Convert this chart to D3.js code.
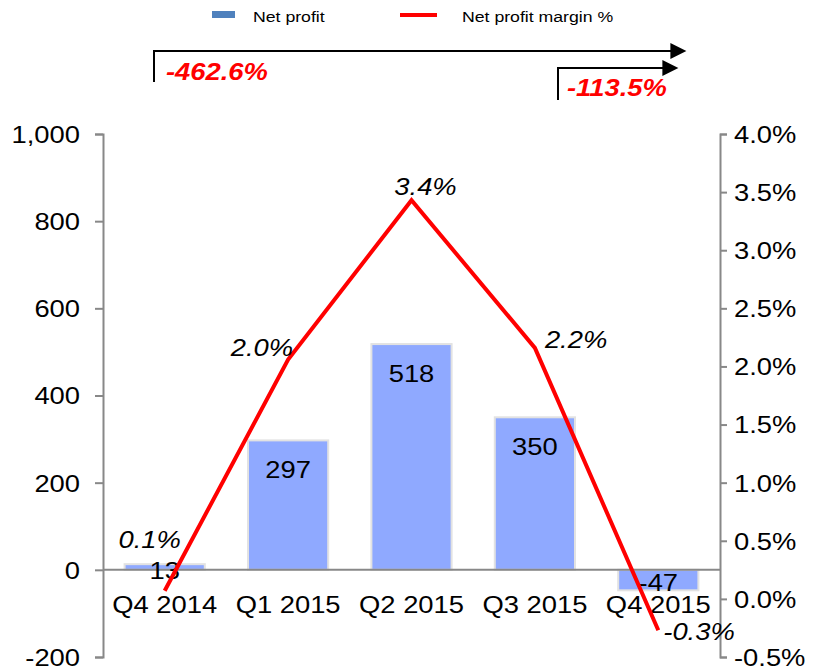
<!DOCTYPE html>
<html>
<head>
<meta charset="utf-8">
<script src="https://cdn.jsdelivr.net/npm/d3@7"></script>
<style>
  body { margin: 0; background: #fff; }
  text { font-family: "Liberation Sans", Arial, sans-serif; }
</style>
</head>
<body>
<script>
// chart data
const categories = ["Q4 2014", "Q1 2015", "Q2 2015", "Q3 2015", "Q4 2015"];
const netProfit = [13, 297, 518, 350, -47];
const margin = [0.07, 2.06, 3.43, 2.16, -0.27];
const marginLabels = ["0.1%", "2.0%", "3.4%", "2.2%", "-0.3%"];
const leftTicks = [-200, 0, 200, 400, 600, 800, 1000];
const rightTicks = [-0.5, 0, 0.5, 1, 1.5, 2, 2.5, 3, 3.5, 4];
const arrowNotes = ["-462.6%", "-113.5%"];

const W = 821, H = 670;
const SX = 1.14; // the original text is a bit wider than plain Arial
const FS = 24;
const svg = d3.select("body").append("svg").attr("width", W).attr("height", H);

// move x/y into a transform so text can be widened
function stretch(sel) {
  sel.each(function () {
    const t = d3.select(this);
    const px = +t.attr("x") || 0, py = +t.attr("y") || 0;
    t.attr("x", 0).attr("y", 0).attr("transform", `translate(${px},${py}) scale(${SX},1)`);
  });
}

const x = d3.scaleBand().domain(categories).range([103, 720]).paddingInner(0.35).paddingOuter(0.175);
const yL = d3.scaleLinear().domain([-200, 1000]).range([657, 134]);
const yR = d3.scaleLinear().domain([-0.5, 4.0]).range([657, 134]);

// bars
svg.append("g").selectAll("rect").data(netProfit).join("rect")
    .attr("x", (d, i) => x(categories[i]))
    .attr("width", x.bandwidth())
    .attr("y", d => yL(Math.max(d, 0)))
    .attr("height", d => Math.abs(yL(d) - yL(0)))
    .attr("fill", "#8fa9ff")
    .attr("stroke", "#e2e2e2")
    .attr("stroke-width", 2);

// left axis (plain hyphen for negatives, like the original)
const fmtL = d3.format(",");
const axL = svg.append("g").attr("transform", "translate(103,0)")
    .call(d3.axisLeft(yL).tickValues(leftTicks).tickSize(8).tickSizeOuter(8)
      .tickFormat(d => fmtL(d).replace("\u2212", "-")));
// right axis
const axR = svg.append("g").attr("transform", "translate(720,0)")
    .call(d3.axisRight(yR).tickValues(rightTicks).tickSize(7).tickSizeOuter(7).tickFormat(d => d.toFixed(1) + "%"));
[axL, axR].forEach(g => {
  g.selectAll("path, line").attr("stroke", "#888").attr("stroke-width", 2);
  g.selectAll("text").attr("font-size", FS).attr("fill", "#000")
      .attr("font-family", "Liberation Sans, Arial, sans-serif")
      .attr("dy", "0.35em").attr("transform", `scale(${SX},1)`);
});
axL.selectAll("text").attr("x", -23 / SX);
axR.selectAll("text").attr("x", 14 / SX);

// zero line
svg.append("line").attr("x1", 103).attr("x2", 720).attr("y1", yL(0)).attr("y2", yL(0))
    .attr("stroke", "#888").attr("stroke-width", 2);

// category labels
svg.append("g").selectAll("text").data(categories).join("text")
    .attr("x", d => x(d) + x.bandwidth() / 2)
    .attr("y", 613)
    .attr("text-anchor", "middle")
    .attr("font-size", FS)
    .text(d => d)
    .call(stretch);

// bar value labels
svg.append("g").selectAll("text").data(netProfit).join("text")
    .attr("x", (d, i) => x(categories[i]) + x.bandwidth() / 2)
    .attr("y", d => d > 100 ? yL(d) + 38 : (d < 0 ? yL(d) + 1 : yL(d) + 15))
    .attr("text-anchor", "middle")
    .attr("font-size", FS)
    .text(d => d)
    .call(stretch);

// margin line
const cx = i => x(categories[i]) + x.bandwidth() / 2;
svg.append("path").datum(margin)
    .attr("fill", "none").attr("stroke", "#ff0000").attr("stroke-width", 4)
    .attr("stroke-linejoin", "miter")
    .attr("d", d3.line().x((d, i) => cx(i)).y(d => yR(d)));

// margin labels
const lblPos = [
  { dx: -15, dy: -43, a: "middle" },
  { dx: 5, dy: -3, a: "end" },
  { dx: 14, dy: -5, a: "middle" },
  { dx: 10, dy: 0, a: "start" },
  { dx: 5, dy: 10, a: "start" }
];
svg.append("g").selectAll("text").data(margin).join("text")
    .attr("x", (d, i) => cx(i) + lblPos[i].dx)
    .attr("y", (d, i) => yR(d) + lblPos[i].dy)
    .attr("text-anchor", (d, i) => lblPos[i].a)
    .attr("font-size", FS)
    .attr("font-style", "italic")
    .text((d, i) => marginLabels[i])
    .call(stretch);

// legend
const leg = svg.append("g");
leg.append("rect").attr("x", 212).attr("y", 11).attr("width", 23).attr("height", 7).attr("fill", "#4f81bd");
leg.append("text").attr("x", 253).attr("y", 22).attr("font-size", 15.5).text("Net profit").call(stretch);
leg.append("line").attr("x1", 400).attr("x2", 437).attr("y1", 15).attr("y2", 15)
    .attr("stroke", "#ff0000").attr("stroke-width", 4);
leg.append("text").attr("x", 462).attr("y", 22).attr("font-size", 15.5).text("Net profit margin %").call(stretch);

// arrows
svg.append("defs").append("marker").attr("id", "ah").attr("viewBox", "0 0 10 10")
    .attr("refX", 1).attr("refY", 5)
    .attr("markerUnits", "userSpaceOnUse").attr("orient", "auto")
    .attr("markerWidth", 17).attr("markerHeight", 16)
    .append("path").attr("d", "M0,0 L10,5 L0,10 Z").attr("fill", "#000");

const arrows = [
  { x0: 154, x1: 672, y: 51, y1: 82, tx: 166, ty: 80 },
  { x0: 558, x1: 664, y: 68, y1: 100, tx: 567, ty: 96 }
];
arrows.forEach((a, i) => {
  svg.append("path")
      .attr("d", `M${a.x0},${a.y1} L${a.x0},${a.y} L${a.x1},${a.y}`)
      .attr("fill", "none").attr("stroke", "#000").attr("stroke-width", 2)
      .attr("marker-end", "url(#ah)");
  svg.append("text").attr("x", a.tx).attr("y", a.ty)
      .attr("font-size", FS).attr("font-weight", "bold").attr("font-style", "italic")
      .attr("fill", "#ff0000").text(arrowNotes[i])
      .call(stretch);
});
</script>
</body>
</html>
